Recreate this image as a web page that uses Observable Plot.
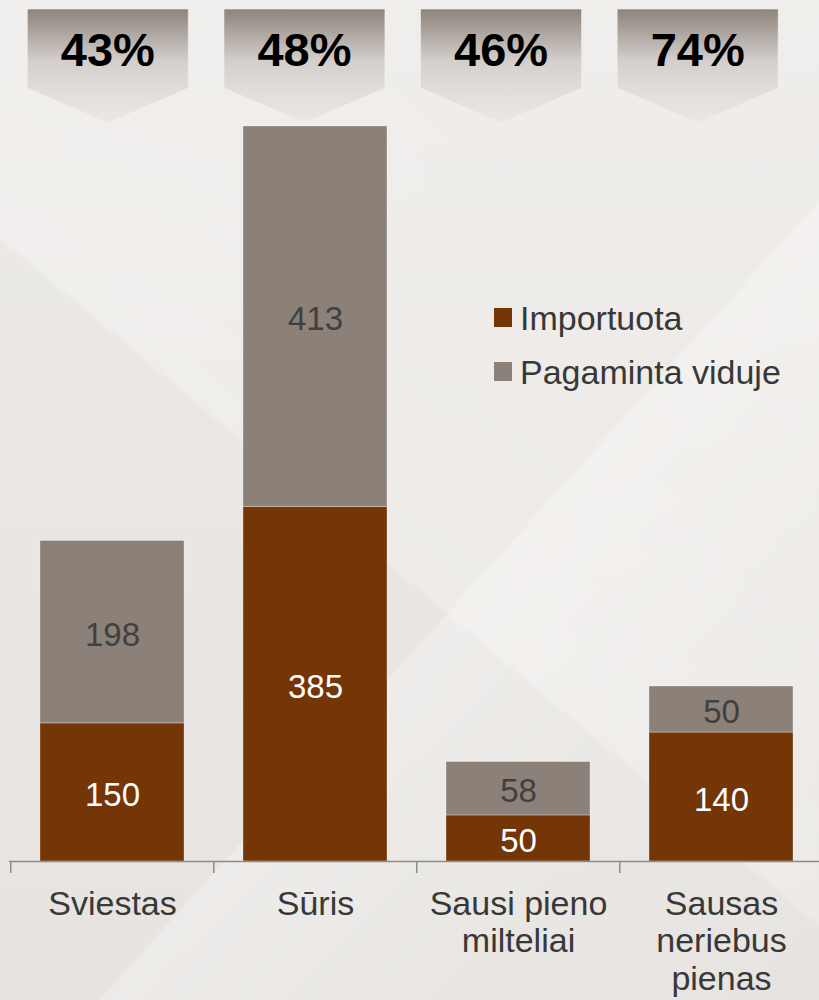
<!DOCTYPE html>
<html>
<head>
<meta charset="utf-8">
<script src="https://cdn.jsdelivr.net/npm/d3@7"></script>
<script src="https://cdn.jsdelivr.net/npm/@observablehq/plot@0.6"></script>
<style>
  html, body { margin: 0; padding: 0; }
  body { background: #ebe8e5; }
  #wrap {
    position: relative; width: 819px; height: 1000px; overflow: hidden;
    background:
      linear-gradient(132deg, rgba(255,255,255,0) 0%, rgba(255,255,255,0) 58%, rgba(255,255,255,0.3) 58.3%, rgba(255,255,255,0.1) 78%, rgba(255,255,255,0) 100%),
      linear-gradient(40deg, rgba(0,0,0,0.012) 0%, rgba(0,0,0,0.012) 45%, rgba(255,255,255,0.15) 45.3%, rgba(255,255,255,0) 80%),
      linear-gradient(180deg, #f0eeec 0%, #ece9e6 50%, #e9e6e3 100%);
  }
</style>
</head>
<body>
<div id="wrap"></div>
<script>
const categories = ["Sviestas", "Sūris", "Sausi pieno\nmilteliai", "Sausas\nneriebus\npienas"];
const seriesNames = ["Importuota", "Pagaminta viduje"];
const imported = [150, 385, 50, 140];
const domestic = [198, 413, 58, 50];
const shares = ["43%", "48%", "46%", "74%"];
const seriesColors = ["#743507", "#8c8179"];

const rows = [];
categories.forEach((c, i) => {
  rows.push({category: c, series: seriesNames[0], value: imported[i]});
  rows.push({category: c, series: seriesNames[1], value: domestic[i]});
});

const FONT = "'Liberation Sans', Arial, Helvetica, sans-serif";
const W = 819, H = 1000;
const xRange = [9.5, 823.5];
const step = (xRange[1] - xRange[0]) / categories.length;

const chart = Plot.plot({
  width: W,
  height: H,
  marginLeft: 9,
  marginRight: 0,
  marginTop: 126,
  marginBottom: 139,
  style: {background: "transparent", fontFamily: FONT, overflow: "visible"},
  x: {domain: categories, range: xRange, paddingInner: 0.293, paddingOuter: 0.1465, axis: null},
  y: {domain: [0, 798], axis: null},
  color: {domain: seriesNames, range: seriesColors},
  marks: [
    Plot.barY(rows, {x: "category", y: "value", fill: "series", stroke: "#ffffff", strokeOpacity: 0.3, strokeWidth: 1}),
    Plot.text(rows, Plot.stackY({
      x: "category", y: "value", z: "series", text: d => d.series === seriesNames[0] ? String(d.value) : "",
      fill: "#ffffff", fontSize: 33, fontFamily: FONT, lineAnchor: "middle", dy: 3
    })),
    Plot.text(rows, Plot.stackY({
      x: "category", y: "value", z: "series", text: d => d.series === seriesNames[1] ? String(d.value) : "",
      fill: "#404040", fontSize: 33, fontFamily: FONT, lineAnchor: "middle", dy: 3
    })),
    Plot.ruleY([0], {stroke: "#8c8c8c", strokeWidth: 1.5}),
    Plot.ruleX(categories, {x: d => d, dx: -step / 2, y1: 0, y2: -13, stroke: "#8c8c8c", strokeWidth: 1.5}),
    Plot.axisX({tickSize: 0, tickPadding: 27, fontSize: 34, lineHeight: 1.1, color: "#383838", fontFamily: FONT, label: null})
  ]
});

document.getElementById("wrap").appendChild(chart);

// Badges above the bars and the legend, drawn with d3 into the same SVG
const svg = d3.select(chart);
const defs = svg.insert("defs", ":first-child");
const grad = defs.append("linearGradient").attr("id", "badgeGrad").attr("x1", 0).attr("y1", 0).attr("x2", 0).attr("y2", 1);
grad.append("stop").attr("offset", "0%").attr("stop-color", "#8d837a");
grad.append("stop").attr("offset", "45%").attr("stop-color", "#d3cecb");
grad.append("stop").attr("offset", "65%").attr("stop-color", "#dedad7");
grad.append("stop").attr("offset", "100%").attr("stop-color", "#ebe8e6");

const badgeX = d3.scaleBand().domain(categories).range([9.5, 796]);
const badgeW = 161, badgeTop = 9, badgeShoulder = 88, badgeTip = 123;
const badges = svg.append("g");
categories.forEach((c, i) => {
  const cx = badgeX(c) + badgeX.bandwidth() / 2;
  badges.append("path")
    .attr("d", `M${cx - badgeW/2},${badgeTop} H${cx + badgeW/2} V${badgeShoulder} L${cx},${badgeTip} L${cx - badgeW/2},${badgeShoulder} Z`)
    .attr("fill", "url(#badgeGrad)")
    .attr("stroke", "#f2f0ee").attr("stroke-opacity", 0.6).attr("stroke-width", 1);
  badges.append("text")
    .attr("x", cx).attr("y", 66)
    .attr("text-anchor", "middle")
    .attr("font-family", FONT).attr("font-weight", "bold").attr("font-size", 47)
    .attr("fill", "#000000")
    .text(shares[i]);
});

const legend = svg.append("g").attr("text-anchor", "start");
seriesNames.forEach((s, i) => {
  const y0 = 308 + i * 54;
  legend.append("rect").attr("x", 494).attr("y", y0).attr("width", 18).attr("height", 19).attr("fill", seriesColors[i]);
  legend.append("text").attr("x", 520).attr("y", y0 + 21.5)
    .attr("text-anchor", "start")
    .attr("font-family", FONT).attr("font-size", 34).attr("fill", "#383838").text(s);
});
</script>
</body>
</html>
